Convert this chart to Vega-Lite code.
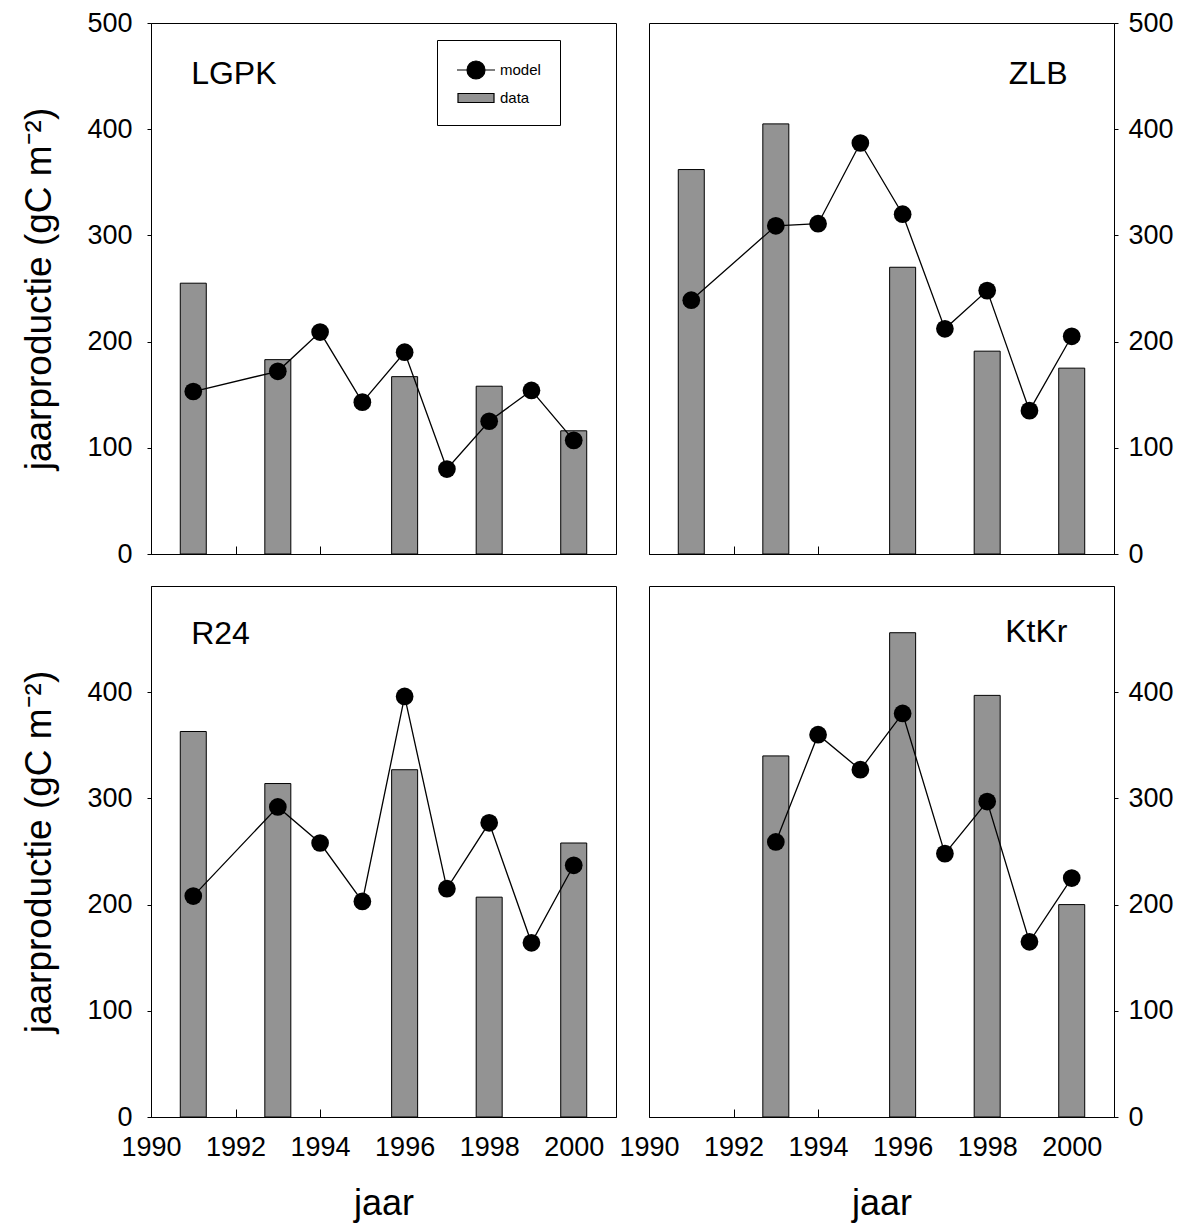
{
  "$schema": "https://vega.github.io/schema/vega-lite/v6.json",
  "background": "white",
  "padding": {"left": 20, "top": 8, "right": 5, "bottom": 5},
  "autosize": {"type": "pad"},
  "bounds": "flush",
  "columns": 2,
  "spacing": {"row": 32, "column": 33},
  "data": {"values": [
    {"site": "LGPK", "year": 1991, "series": "data", "value": 255},
    {"site": "LGPK", "year": 1993, "series": "data", "value": 183},
    {"site": "LGPK", "year": 1996, "series": "data", "value": 167},
    {"site": "LGPK", "year": 1998, "series": "data", "value": 158},
    {"site": "LGPK", "year": 2000, "series": "data", "value": 116},
    {"site": "LGPK", "year": 1991, "series": "model", "value": 153},
    {"site": "LGPK", "year": 1993, "series": "model", "value": 172},
    {"site": "LGPK", "year": 1994, "series": "model", "value": 209},
    {"site": "LGPK", "year": 1995, "series": "model", "value": 143},
    {"site": "LGPK", "year": 1996, "series": "model", "value": 190},
    {"site": "LGPK", "year": 1997, "series": "model", "value": 80},
    {"site": "LGPK", "year": 1998, "series": "model", "value": 125},
    {"site": "LGPK", "year": 1999, "series": "model", "value": 154},
    {"site": "LGPK", "year": 2000, "series": "model", "value": 107},
    {"site": "ZLB", "year": 1991, "series": "data", "value": 362},
    {"site": "ZLB", "year": 1993, "series": "data", "value": 405},
    {"site": "ZLB", "year": 1996, "series": "data", "value": 270},
    {"site": "ZLB", "year": 1998, "series": "data", "value": 191},
    {"site": "ZLB", "year": 2000, "series": "data", "value": 175},
    {"site": "ZLB", "year": 1991, "series": "model", "value": 239},
    {"site": "ZLB", "year": 1993, "series": "model", "value": 309},
    {"site": "ZLB", "year": 1994, "series": "model", "value": 311},
    {"site": "ZLB", "year": 1995, "series": "model", "value": 387},
    {"site": "ZLB", "year": 1996, "series": "model", "value": 320},
    {"site": "ZLB", "year": 1997, "series": "model", "value": 212},
    {"site": "ZLB", "year": 1998, "series": "model", "value": 248},
    {"site": "ZLB", "year": 1999, "series": "model", "value": 135},
    {"site": "ZLB", "year": 2000, "series": "model", "value": 205},
    {"site": "R24", "year": 1991, "series": "data", "value": 363},
    {"site": "R24", "year": 1993, "series": "data", "value": 314},
    {"site": "R24", "year": 1996, "series": "data", "value": 327},
    {"site": "R24", "year": 1998, "series": "data", "value": 207},
    {"site": "R24", "year": 2000, "series": "data", "value": 258},
    {"site": "R24", "year": 1991, "series": "model", "value": 208},
    {"site": "R24", "year": 1993, "series": "model", "value": 292},
    {"site": "R24", "year": 1994, "series": "model", "value": 258},
    {"site": "R24", "year": 1995, "series": "model", "value": 203},
    {"site": "R24", "year": 1996, "series": "model", "value": 396},
    {"site": "R24", "year": 1997, "series": "model", "value": 215},
    {"site": "R24", "year": 1998, "series": "model", "value": 277},
    {"site": "R24", "year": 1999, "series": "model", "value": 164},
    {"site": "R24", "year": 2000, "series": "model", "value": 237},
    {"site": "KtKr", "year": 1993, "series": "data", "value": 340},
    {"site": "KtKr", "year": 1996, "series": "data", "value": 456},
    {"site": "KtKr", "year": 1998, "series": "data", "value": 397},
    {"site": "KtKr", "year": 2000, "series": "data", "value": 200},
    {"site": "KtKr", "year": 1993, "series": "model", "value": 259},
    {"site": "KtKr", "year": 1994, "series": "model", "value": 360},
    {"site": "KtKr", "year": 1995, "series": "model", "value": 327},
    {"site": "KtKr", "year": 1996, "series": "model", "value": 380},
    {"site": "KtKr", "year": 1997, "series": "model", "value": 248},
    {"site": "KtKr", "year": 1998, "series": "model", "value": 297},
    {"site": "KtKr", "year": 1999, "series": "model", "value": 165},
    {"site": "KtKr", "year": 2000, "series": "model", "value": 225}
  ]},
  "concat": [
    {
      "width": 465, "height": 531,
      "encoding": {
        "x": {"field": "year", "type": "quantitative", "scale": {"domain": [1990, 2001], "nice": false, "zero": false, "padding": 0},
              "axis": {"values": [1990, 1992, 1994, 1996, 1998, 2000], "labels": false, "title": null}},
        "y": {"field": "value", "type": "quantitative", "scale": {"domain": [0, 500], "nice": false, "padding": 0},
              "axis": {"orient": "left", "values": [0, 100, 200, 300, 400, 500], "title": "jaarproductie (gC m⁻²)"}}
      },
      "layer": [
        {"transform": [{"filter": "datum.site === 'LGPK' && datum.series === 'data'"}],
         "mark": {"type": "bar", "width": 26, "fill": "#939393", "stroke": "black", "strokeWidth": 1}},
        {"transform": [{"filter": "datum.site === 'LGPK' && datum.series === 'model'"}],
         "mark": {"type": "line", "color": "black", "strokeWidth": 1.3}},
        {"transform": [{"filter": "datum.site === 'LGPK' && datum.series === 'model'"}],
         "mark": {"type": "point", "filled": true, "color": "black", "size": 314, "opacity": 1}},
        {"transform": [{"filter": "datum.site === 'LGPK' && datum.series === 'model' && datum.year === 2000"}],
         "mark": {"type": "text", "align": "left", "baseline": "middle", "font": "Liberation Sans", "fontSize": 32, "color": "black"},
         "encoding": {"x": {"datum": 1990.95}, "y": {"datum": 452}, "text": {"value": "LGPK"}}},
        {"transform": [{"filter": "datum.site === 'LGPK'"}],
         "mark": {"type": "point", "opacity": 0, "strokeWidth": 1.2},
         "encoding": {
           "fill": {"field": "series", "type": "nominal", "scale": {"domain": ["model", "data"], "range": ["black", "#939393"]},
             "legend": {"title": null, "orient": "none", "legendX": 286, "legendY": 17, "padding": 19, "strokeColor": "black", "fillColor": "white", "cornerRadius": 0,
               "labelFont": "Liberation Sans", "labelFontSize": 15, "labelColor": "black", "symbolSize": 400, "symbolOpacity": 1,
               "symbolStrokeColor": "black", "symbolStrokeWidth": 1.2, "symbolOffset": 9, "labelOffset": 13, "rowPadding": 5}},
           "stroke": {"field": "series", "type": "nominal", "scale": {"domain": ["model", "data"], "range": ["black", "black"]},
             "legend": {"title": null, "orient": "none", "legendX": 286, "legendY": 17, "padding": 19, "strokeColor": "black", "fillColor": "white", "cornerRadius": 0,
               "labelFont": "Liberation Sans", "labelFontSize": 15, "labelColor": "black", "symbolSize": 400, "symbolOpacity": 1,
               "symbolStrokeColor": "black", "symbolStrokeWidth": 1.2, "symbolOffset": 9, "labelOffset": 13, "rowPadding": 5}},
           "shape": {"field": "series", "type": "nominal",
             "scale": {"domain": ["model", "data"], "range": ["M-1.9,0H-0.9M0.9,0H1.9M-0.9,0A0.9,0.9,0,1,0,0.9,0A0.9,0.9,0,1,0,-0.9,0Z", "M-1.8,-0.45H1.8V0.45H-1.8Z"]},
             "legend": {"title": null, "orient": "none", "legendX": 286, "legendY": 17, "padding": 19, "strokeColor": "black", "fillColor": "white", "cornerRadius": 0,
               "labelFont": "Liberation Sans", "labelFontSize": 15, "labelColor": "black", "symbolSize": 400, "symbolOpacity": 1,
               "symbolStrokeColor": "black", "symbolStrokeWidth": 1.2, "symbolOffset": 9, "labelOffset": 13, "rowPadding": 5}}
         }}
      ]
    },
    {
      "width": 465, "height": 531,
      "encoding": {
        "x": {"field": "year", "type": "quantitative", "scale": {"domain": [1990, 2001], "nice": false, "zero": false, "padding": 0},
              "axis": {"values": [1990, 1992, 1994, 1996, 1998, 2000], "labels": false, "title": null}},
        "y": {"field": "value", "type": "quantitative", "scale": {"domain": [0, 500], "nice": false, "padding": 0},
              "axis": {"orient": "right", "values": [0, 100, 200, 300, 400, 500], "title": null, "labelPadding": 10}}
      },
      "layer": [
        {"transform": [{"filter": "datum.site === 'ZLB' && datum.series === 'data'"}],
         "mark": {"type": "bar", "width": 26, "fill": "#939393", "stroke": "black", "strokeWidth": 1}},
        {"transform": [{"filter": "datum.site === 'ZLB' && datum.series === 'model'"}],
         "mark": {"type": "line", "color": "black", "strokeWidth": 1.3}},
        {"transform": [{"filter": "datum.site === 'ZLB' && datum.series === 'model'"}],
         "mark": {"type": "point", "filled": true, "color": "black", "size": 314, "opacity": 1}},
        {"transform": [{"filter": "datum.site === 'ZLB' && datum.series === 'model' && datum.year === 2000"}],
         "mark": {"type": "text", "align": "right", "baseline": "middle", "font": "Liberation Sans", "fontSize": 32, "color": "black"},
         "encoding": {"x": {"datum": 1999.9}, "y": {"datum": 452}, "text": {"value": "ZLB"}}}
      ]
    },
    {
      "width": 465, "height": 531,
      "encoding": {
        "x": {"field": "year", "type": "quantitative", "scale": {"domain": [1990, 2001], "nice": false, "zero": false, "padding": 0},
              "axis": {"values": [1990, 1992, 1994, 1996, 1998, 2000], "format": "d", "title": "jaar"}},
        "y": {"field": "value", "type": "quantitative", "scale": {"domain": [0, 500], "nice": false, "padding": 0},
              "axis": {"orient": "left", "values": [0, 100, 200, 300, 400], "title": "jaarproductie (gC m⁻²)"}}
      },
      "layer": [
        {"transform": [{"filter": "datum.site === 'R24' && datum.series === 'data'"}],
         "mark": {"type": "bar", "width": 26, "fill": "#939393", "stroke": "black", "strokeWidth": 1}},
        {"transform": [{"filter": "datum.site === 'R24' && datum.series === 'model'"}],
         "mark": {"type": "line", "color": "black", "strokeWidth": 1.3}},
        {"transform": [{"filter": "datum.site === 'R24' && datum.series === 'model'"}],
         "mark": {"type": "point", "filled": true, "color": "black", "size": 314, "opacity": 1}},
        {"transform": [{"filter": "datum.site === 'R24' && datum.series === 'model' && datum.year === 2000"}],
         "mark": {"type": "text", "align": "left", "baseline": "middle", "font": "Liberation Sans", "fontSize": 32, "color": "black"},
         "encoding": {"x": {"datum": 1990.95}, "y": {"datum": 455}, "text": {"value": "R24"}}}
      ]
    },
    {
      "width": 465, "height": 531,
      "encoding": {
        "x": {"field": "year", "type": "quantitative", "scale": {"domain": [1990, 2001], "nice": false, "zero": false, "padding": 0},
              "axis": {"values": [1990, 1992, 1994, 1996, 1998, 2000], "format": "d", "title": "jaar"}},
        "y": {"field": "value", "type": "quantitative", "scale": {"domain": [0, 500], "nice": false, "padding": 0},
              "axis": {"orient": "right", "values": [0, 100, 200, 300, 400], "title": null, "labelPadding": 10}}
      },
      "layer": [
        {"transform": [{"filter": "datum.site === 'KtKr' && datum.series === 'data'"}],
         "mark": {"type": "bar", "width": 26, "fill": "#939393", "stroke": "black", "strokeWidth": 1}},
        {"transform": [{"filter": "datum.site === 'KtKr' && datum.series === 'model'"}],
         "mark": {"type": "line", "color": "black", "strokeWidth": 1.3}},
        {"transform": [{"filter": "datum.site === 'KtKr' && datum.series === 'model'"}],
         "mark": {"type": "point", "filled": true, "color": "black", "size": 314, "opacity": 1}},
        {"transform": [{"filter": "datum.site === 'KtKr' && datum.series === 'model' && datum.year === 2000"}],
         "mark": {"type": "text", "align": "right", "baseline": "middle", "font": "Liberation Sans", "fontSize": 32, "color": "black"},
         "encoding": {"x": {"datum": 1999.9}, "y": {"datum": 457}, "text": {"value": "KtKr"}}}
      ]
    }
  ],
  "config": {
    "view": {"stroke": "black", "strokeWidth": 1},
    "axis": {"grid": false, "labelFont": "Liberation Sans", "labelFontSize": 27, "labelColor": "black",
             "titleFont": "Liberation Sans", "titleFontWeight": "normal", "titleColor": "black",
             "domainColor": "black", "tickColor": "black", "domainWidth": 1, "tickWidth": 1},
    "axisX": {"tickSize": -8, "labelPadding": 25, "titlePadding": 26, "titleFontSize": 36, "labelFlush": false, "labelOverlap": false},
    "axisY": {"tickSize": 4, "labelPadding": 15, "titlePadding": 28, "titleFontSize": 37, "labelOverlap": false}
  }
}
